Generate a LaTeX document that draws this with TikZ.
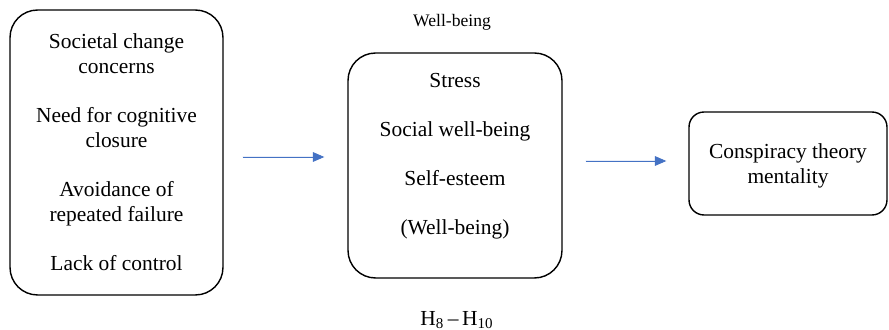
\documentclass[tikz,border=0pt]{standalone}
\usepackage{fontspec}
\setmainfont{Liberation Serif}
\usetikzlibrary{arrows.meta}
\definecolor{flowblue}{RGB}{68,114,196}

\begin{document}
\begin{tikzpicture}[x=0.02cm,y=-0.02cm,>={Triangle[length=6.5pt,width=5.5pt]},
	box/.style={draw,line width=0.8pt,rounded corners=0.55cm},
	txt/.style={align=center,font=\fontsize{12.2}{14.2}\selectfont},
	flow/.style={->,draw=flowblue,fill=flowblue,line width=0.5pt}]

\useasboundingbox (0,0) rectangle (889,330);

\node[box,txt,minimum width=4.26cm,minimum height=5.7cm] (b1) at (116.5,152.5)
	{Societal change\\concerns\\[13.7pt]Need for cognitive\\closure\\[13.7pt]Avoidance of\\repeated failure\\[13.7pt]Lack of control};

	\node[box,minimum width=4.28cm,minimum height=4.5cm] (b2) at (455,165.5) {};
	\node[txt] (b2t) at (455,156.5) {Stress\\[13.7pt]Social well-being\\[13.7pt]Self-esteem\\[13.7pt](Well-being)};

\node[box,txt,rounded corners=0.3cm,minimum width=3.96cm,minimum height=2.06cm] (b3) at (788,163.5)
	{\\[-3pt]Conspiracy theory\\mentality};

	\node[font=\fontsize{10}{12}\selectfont] (wb) at (452,22) {Well-being};
	\node[txt] (hyp) at (457,320) {H\textsubscript{8}\,–\,H\textsubscript{10}};

\draw[flow,shorten <=0.38cm,shorten >=0.46cm] (b1.east |- 0,157) -- (b2.west |- 0,157);
\draw[flow,shorten <=0.46cm,shorten >=0.44cm] (b2.east |- 0,161) -- (b3.west |- 0,161);

\end{tikzpicture}
\end{document}
